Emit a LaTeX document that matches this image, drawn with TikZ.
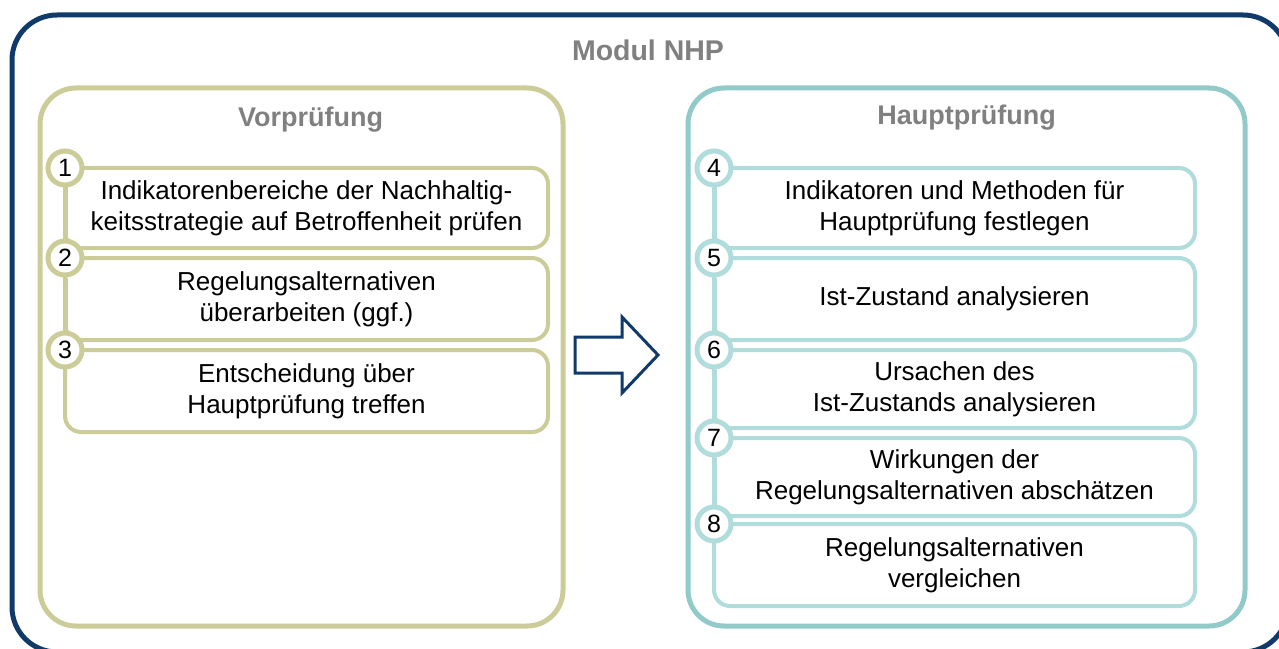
\documentclass[tikz,border=0pt]{standalone}
\usepackage{fontspec}
\setmainfont{Liberation Sans}
\usetikzlibrary{positioning}
\definecolor{navy}{RGB}{15,58,105}
\definecolor{khaki}{RGB}{204,204,153}
\definecolor{tealdark}{RGB}{146,201,201}
\definecolor{teallight}{RGB}{176,220,220}
\definecolor{titlegray}{RGB}{128,128,128}
\tikzset{
  panel/.style={line width=5bp, rounded corners=36bp, anchor=north west,
    minimum height=538bp, inner sep=0pt, outer sep=0pt},
  ptitle/.style={text=titlegray, font=\bfseries\fontsize{27bp}{32bp}\selectfont},
  stepbox/.style={line width=4bp, rounded corners=16bp, fill=white, align=center,
    inner sep=0pt, outer sep=0pt, font=\fontsize{26bp}{31bp}\selectfont},
  num/.style={circle, draw, line width=5bp, fill=white, minimum size=34bp,
    inner sep=0pt, font=\fontsize{25bp}{25bp}\selectfont}
}
\begin{document}
\begin{tikzpicture}[x=1bp, y=-1bp, node distance=10bp]
  \useasboundingbox (0,0) rectangle (1279,649);
  \clip (0,0) rectangle (1279,649);
  % outer frame
  \draw[navy, line width=5bp, rounded corners=45bp] (12,15) rectangle (1288,652);
  \node[ptitle, font=\bfseries\fontsize{28.5bp}{32bp}\selectfont] (modul) at (648,50) {Modul NHP};
  % panels
  \node[panel, draw=khaki, minimum width=523bp] (vor) at (40,88) {};
  \node[panel, draw=tealdark, minimum width=557bp] (haupt) at (688,88) {};
  \node[ptitle] (vortitel) at ([xshift=9bp, yshift=-32bp]vor.north) {Vorprüfung};
  \node[ptitle] (haupttitel) at ([yshift=-30bp]haupt.north) {Hauptprüfung};
  % Vorpruefung steps
  \node[stepbox, draw=khaki, minimum width=483bp, minimum height=80bp, anchor=north west] (s1) at (65,168)
    {Indikatorenbereiche der Nachhaltig-\\keitsstrategie auf Betroffenheit prüfen};
  \node[stepbox, draw=khaki, minimum width=483bp, minimum height=82bp, below=of s1.south west, anchor=north west] (s2)
    {Regelungsalternativen\\überarbeiten (ggf.)};
  \node[stepbox, draw=khaki, minimum width=483bp, minimum height=82bp, below=of s2.south west, anchor=north west] (s3)
    {Entscheidung über\\Hauptprüfung treffen};
  % Hauptpruefung steps
  \node[stepbox, draw=teallight, minimum width=481bp, minimum height=80bp, anchor=north west] (s4) at (714,168)
    {Indikatoren und Methoden für\\Hauptprüfung festlegen};
  \node[stepbox, draw=teallight, minimum width=481bp, minimum height=82bp, below=of s4.south west, anchor=north west] (s5)
    {Ist-Zustand analysieren};
  \node[stepbox, draw=teallight, minimum width=481bp, minimum height=78bp, below=of s5.south west, anchor=north west] (s6)
    {Ursachen des\\Ist-Zustands analysieren};
  \node[stepbox, draw=teallight, minimum width=481bp, minimum height=78bp, below=of s6.south west, anchor=north west] (s7)
    {Wirkungen der\\Regelungsalternativen abschätzen};
  \node[stepbox, draw=teallight, minimum width=481bp, minimum height=82bp, below=8bp of s7.south west, anchor=north west] (s8)
    {Regelungsalternativen\\vergleichen};
  % numbers
  \foreach \i in {1,2,3}
    \node[num, draw=khaki] (n\i) at (s\i.north west) {\i};
  \foreach \i in {4,...,8}
    \node[num, draw=teallight] (n\i) at (s\i.north west) {\i};
  \draw[khaki, line width=5bp] (n1) -- (n2) (n2) -- (n3);
  \draw[teallight, line width=5bp] (n4) -- (n5) (n5) -- (n6) (n6) -- (n7) (n7) -- (n8);
  % arrow
  \draw[navy, line width=3bp] (575,337) -- (622,337) -- (622,317) -- (658,355)
    -- (622,393) -- (622,373) -- (575,373) -- cycle;
\end{tikzpicture}
\end{document}
